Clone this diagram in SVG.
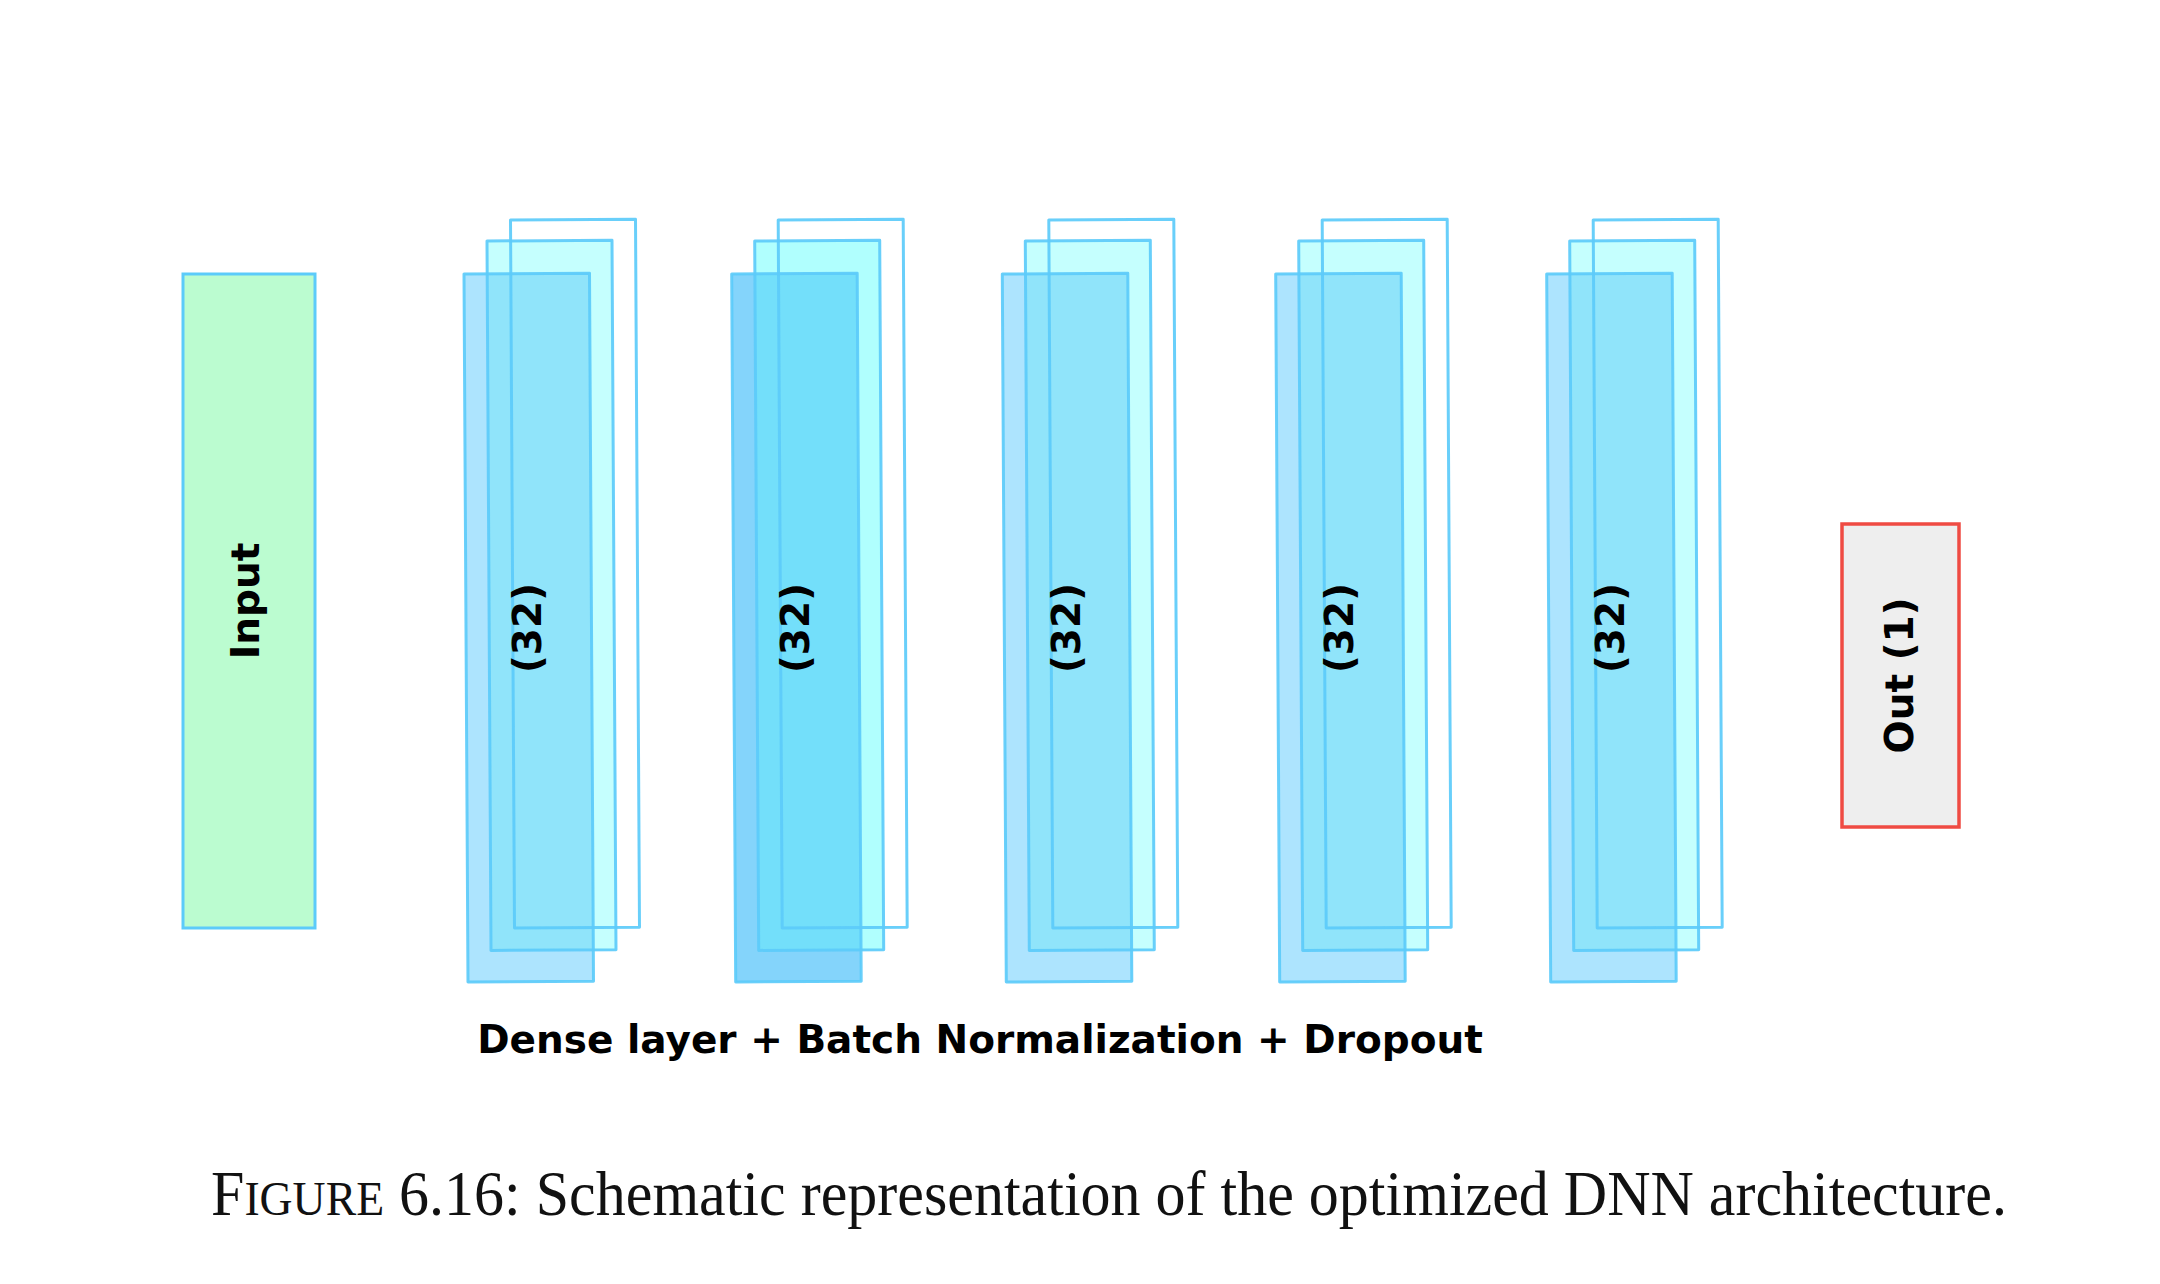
<svg xmlns="http://www.w3.org/2000/svg" width="2160" height="1284" viewBox="0 0 2160 1284">
  <style>
    .edge { fill: none; stroke: #5ccbfa; stroke-width: 3; stroke-linejoin: round; stroke-opacity: 0.92; }
    .midA { fill: #c5fffe; }
    .frontA { fill: #ade4fe; }
    .ovA { fill: #90e4fa; }
    .midB { fill: #b0fffe; }
    .frontB { fill: #84d4fb; }
    .ovB { fill: #73dffa; }
    .lbl { font-family: "DejaVu Sans", sans-serif; font-weight: bold; font-size: 39px; fill: #000; text-anchor: middle; }
    .cap { font-family: "Liberation Serif", "DejaVu Serif", serif; font-size: 63px; fill: #111; }
  </style>
  <rect width="2160" height="1284" fill="#ffffff"/>

  <g id="input">
    <rect x="183" y="274" width="132" height="654" fill="#bbfcd0" stroke="#5ccbfa" stroke-width="3"/>
    <text class="lbl" transform="translate(249,601) rotate(-90)" y="10">Input</text>
  </g>

  <g id="layer1" transform="translate(464,0)">
    <polygon class="midA" points="23,241 148,240.3 152,949.7 27,950.4"/>
    <polygon class="frontA" points="0,274 125.5,273.3 129.5,981.3 4,982"/>
    <polygon class="ovA" points="23.2,273.9 125.5,273.3 129.3,949.8 27,950.4"/>
    <polygon class="edge" points="46.5,220 171.5,219.3 175.5,927.3 50.5,928"/>
    <polygon class="edge" points="23,241 148,240.3 152,949.7 27,950.4"/>
    <polygon class="edge" points="0,274 125.5,273.3 129.5,981.3 4,982"/>
    <text class="lbl" transform="translate(65,628) rotate(-90)" y="12.3">(32)</text>
  </g>

  <g id="layer2" transform="translate(731.7,0)">
    <polygon class="midB" points="23,241 148,240.3 152,949.7 27,950.4"/>
    <polygon class="frontB" points="0,274 125.5,273.3 129.5,981.3 4,982"/>
    <polygon class="ovB" points="23.2,273.9 125.5,273.3 129.3,949.8 27,950.4"/>
    <polygon class="edge" points="46.5,220 171.5,219.3 175.5,927.3 50.5,928"/>
    <polygon class="edge" points="23,241 148,240.3 152,949.7 27,950.4"/>
    <polygon class="edge" points="0,274 125.5,273.3 129.5,981.3 4,982"/>
    <text class="lbl" transform="translate(65,628) rotate(-90)" y="12.3">(32)</text>
  </g>

  <g id="layer3" transform="translate(1002.3,0)">
    <polygon class="midA" points="23,241 148,240.3 152,949.7 27,950.4"/>
    <polygon class="frontA" points="0,274 125.5,273.3 129.5,981.3 4,982"/>
    <polygon class="ovA" points="23.2,273.9 125.5,273.3 129.3,949.8 27,950.4"/>
    <polygon class="edge" points="46.5,220 171.5,219.3 175.5,927.3 50.5,928"/>
    <polygon class="edge" points="23,241 148,240.3 152,949.7 27,950.4"/>
    <polygon class="edge" points="0,274 125.5,273.3 129.5,981.3 4,982"/>
    <text class="lbl" transform="translate(65,628) rotate(-90)" y="12.3">(32)</text>
  </g>

  <g id="layer4" transform="translate(1275.7,0)">
    <polygon class="midA" points="23,241 148,240.3 152,949.7 27,950.4"/>
    <polygon class="frontA" points="0,274 125.5,273.3 129.5,981.3 4,982"/>
    <polygon class="ovA" points="23.2,273.9 125.5,273.3 129.3,949.8 27,950.4"/>
    <polygon class="edge" points="46.5,220 171.5,219.3 175.5,927.3 50.5,928"/>
    <polygon class="edge" points="23,241 148,240.3 152,949.7 27,950.4"/>
    <polygon class="edge" points="0,274 125.5,273.3 129.5,981.3 4,982"/>
    <text class="lbl" transform="translate(65,628) rotate(-90)" y="12.3">(32)</text>
  </g>

  <g id="layer5" transform="translate(1546.7,0)">
    <polygon class="midA" points="23,241 148,240.3 152,949.7 27,950.4"/>
    <polygon class="frontA" points="0,274 125.5,273.3 129.5,981.3 4,982"/>
    <polygon class="ovA" points="23.2,273.9 125.5,273.3 129.3,949.8 27,950.4"/>
    <polygon class="edge" points="46.5,220 171.5,219.3 175.5,927.3 50.5,928"/>
    <polygon class="edge" points="23,241 148,240.3 152,949.7 27,950.4"/>
    <polygon class="edge" points="0,274 125.5,273.3 129.5,981.3 4,982"/>
    <text class="lbl" transform="translate(65,628) rotate(-90)" y="12.3">(32)</text>
  </g>

  <g id="output">
    <rect x="1842" y="524" width="117" height="303" fill="#eeeeee" stroke="#ef4b43" stroke-width="3.5"/>
    <text class="lbl" transform="translate(1900.5,675.5) rotate(-90)" y="12.3">Out (1)</text>
  </g>

  <g id="connectors"></g>

  <text class="lbl" x="980" y="1053">Dense layer + Batch Normalization + Dropout</text>

  <text class="cap" x="211" y="1215" textLength="1796" lengthAdjust="spacingAndGlyphs">F<tspan font-size="48">IGURE</tspan> 6.16: Schematic representation of the optimized DNN architecture.</text>
</svg>
